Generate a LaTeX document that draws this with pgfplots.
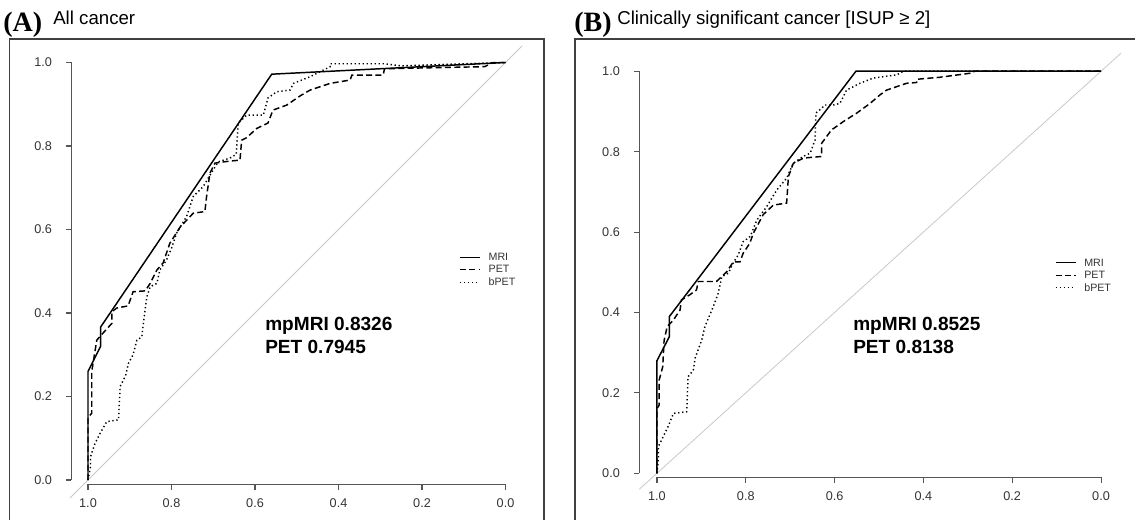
\documentclass[border=0pt]{standalone}
\usepackage{fontspec}
\setmainfont{Liberation Sans}
\newfontfamily\titleserif{Liberation Serif}
\usepackage{pgfplots}
\usepackage{pgfplotstable}
\pgfplotsset{compat=1.18}

\definecolor{axisc}{HTML}{555555}
\definecolor{labc}{HTML}{333333}
\definecolor{diagc}{HTML}{C8C8C8}
\definecolor{framec}{HTML}{404040}

% ROC curves: specificity s (axis runs 1 -> 0) vs sensitivity t
\pgfplotstableread{
s t
1.000 0.000
1.000 0.260
0.970 0.320
0.970 0.366
0.560 0.972
0.000 1.000
}\mriA
\pgfplotstableread{
s t
1.000 0.000
1.000 0.150
0.991 0.160
0.991 0.260
0.979 0.335
0.964 0.352
0.943 0.375
0.943 0.403
0.931 0.412
0.904 0.417
0.892 0.451
0.863 0.453
0.851 0.471
0.835 0.503
0.820 0.520
0.804 0.567
0.780 0.605
0.748 0.639
0.720 0.643
0.716 0.679
0.708 0.735
0.696 0.759
0.660 0.764
0.636 0.766
0.632 0.814
0.620 0.820
0.596 0.842
0.569 0.855
0.557 0.886
0.524 0.898
0.492 0.920
0.468 0.934
0.420 0.950
0.372 0.958
0.368 0.970
0.293 0.970
0.290 0.985
0.150 0.988
0.050 0.990
0.030 1.000
0.000 1.000
}\petA
\pgfplotstableread{
s t
1.000 0.000
0.994 0.032
0.994 0.056
0.983 0.088
0.971 0.112
0.955 0.140
0.927 0.144
0.923 0.224
0.910 0.250
0.903 0.280
0.892 0.300
0.883 0.335
0.871 0.343
0.867 0.379
0.859 0.439
0.851 0.463
0.835 0.471
0.828 0.503
0.812 0.527
0.800 0.555
0.788 0.591
0.764 0.631
0.748 0.679
0.724 0.703
0.700 0.743
0.688 0.762
0.660 0.771
0.645 0.780
0.640 0.855
0.620 0.874
0.580 0.874
0.569 0.915
0.548 0.930
0.516 0.934
0.508 0.950
0.468 0.966
0.420 0.990
0.420 0.997
0.290 0.997
0.250 0.992
0.000 1.000
}\bpetA
\pgfplotstableread{
s t
1.000 0.000
1.000 0.280
0.972 0.340
0.972 0.390
0.552 1.000
0.000 1.000
}\mriB
\pgfplotstableread{
s t
1.000 0.000
1.000 0.160
0.995 0.170
0.995 0.232
0.987 0.265
0.984 0.330
0.977 0.365
0.963 0.381
0.948 0.406
0.945 0.431
0.926 0.444
0.911 0.456
0.907 0.477
0.866 0.477
0.843 0.501
0.828 0.526
0.813 0.526
0.806 0.547
0.791 0.572
0.783 0.597
0.761 0.643
0.738 0.667
0.708 0.672
0.704 0.738
0.693 0.771
0.670 0.784
0.629 0.788
0.629 0.821
0.607 0.854
0.580 0.875
0.550 0.896
0.520 0.920
0.498 0.941
0.483 0.953
0.438 0.970
0.415 0.972
0.415 0.980
0.363 0.985
0.295 0.995
0.284 1.000
0.000 1.000
}\petB
\pgfplotstableread{
s t
1.000 0.000
0.997 0.033
0.997 0.066
0.986 0.091
0.975 0.116
0.963 0.149
0.933 0.153
0.930 0.240
0.918 0.257
0.914 0.287
0.899 0.332
0.892 0.365
0.881 0.394
0.873 0.415
0.862 0.448
0.854 0.489
0.839 0.498
0.830 0.520
0.817 0.543
0.806 0.576
0.790 0.589
0.775 0.630
0.753 0.663
0.730 0.705
0.708 0.734
0.693 0.771
0.671 0.788
0.655 0.796
0.644 0.829
0.642 0.896
0.629 0.908
0.622 0.916
0.603 0.916
0.588 0.920
0.573 0.953
0.543 0.970
0.513 0.983
0.460 0.991
0.445 1.000
0.000 1.000
}\bpetB

\pgfplotsset{
  rocax/.style={
    scale only axis,
    xmin=-0.04, xmax=1.04, ymin=-0.01, ymax=1.04,
    axis line style={draw=none},
    xtick={0,0.2,0.4,0.6,0.8,1}, xticklabels={1.0,0.8,0.6,0.4,0.2,0.0},
    ytick={0,0.2,0.4,0.6,0.8,1}, yticklabels={0.0,0.2,0.4,0.6,0.8,1.0},
    xtick pos=bottom, ytick pos=left,
    tick align=outside, major tick length=4pt,
    tick style={axisc, line width=0.8pt},
    ticklabel style={font=\fontsize{9.5}{11}\selectfont, text=labc},
    xticklabel style={yshift=-3pt},
    yticklabel style={anchor=east, xshift=-7pt},
    clip=false,
    legend cell align=left,
    legend image code/.code={
      \draw[#1, line width=0.7pt] (0pt,0pt) -- (15pt,0pt);
      \path (21pt,0pt);},
    legend style={draw=none, fill=none, inner sep=0pt, row sep=2.4pt,
      anchor=north west,
      nodes={inner sep=0pt, text=labc, text height=6pt, text depth=1pt,
        font=\fontsize{8}{9}\selectfont}},
  },
  mri/.style={black, line width=1.1pt, solid},
  pet/.style={black, line width=1.1pt, dash pattern=on 4.5pt off 2.5pt},
  bpet/.style={black, line width=1.1pt, dash pattern=on 1pt off 2pt},
}

\begin{document}
\begin{tikzpicture}[x=0.75pt,y=0.75pt]
\useasboundingbox (0,0) rectangle (1135,520);

% panel frames
\draw[framec, line width=1.1pt] (9.6,-5) -- (9.6,481) -- (544,481) -- (544,-5);
\draw[framec, line width=1.1pt] (575,-5) -- (575,481) -- (1140,481);

% ---- panel A ----
\begin{axis}[rocax, at={(53.475pt,26.85pt)}, anchor=south west,
  width=338.2pt, height=328.8pt,
  legend style={at={(axis cs:0.889,0.546)}}]
\draw[axisc, line width=0.8pt] (axis cs:-0.04,0) -- (axis cs:-0.04,1);
\draw[axisc, line width=0.8pt] (axis cs:0,-0.01) -- (axis cs:1,-0.01);
\addplot[diagc, line width=0.6pt, forget plot] coordinates {(-0.043,-0.043) (1.04,1.04)};
\addplot[mri] table[x expr=1-\thisrow{s}, y=t] {\mriA};
\addlegendentry{MRI}
\addplot[pet] table[x expr=1-\thisrow{s}, y=t] {\petA};
\addlegendentry{PET}
\addplot[bpet] table[x expr=1-\thisrow{s}, y=t] {\bpetA};
\addlegendentry{bPET}
\end{axis}

% ---- panel B ----
\begin{axis}[rocax, at={(479.4pt,32.03pt)}, anchor=south west,
  width=359.7pt, height=316.6pt,
  legend style={at={(axis cs:0.896,0.536)}}]
\draw[axisc, line width=0.8pt] (axis cs:-0.04,0) -- (axis cs:-0.04,1);
\draw[axisc, line width=0.8pt] (axis cs:0,-0.01) -- (axis cs:1,-0.01);
\addplot[diagc, line width=0.6pt, forget plot] coordinates {(-0.04,-0.04) (1.045,1.045)};
\addplot[mri] table[x expr=1-\thisrow{s}, y=t] {\mriB};
\addlegendentry{MRI}
\addplot[pet] table[x expr=1-\thisrow{s}, y=t] {\petB};
\addlegendentry{PET}
\addplot[bpet] table[x expr=1-\thisrow{s}, y=t] {\bpetB};
\addlegendentry{bPET}
\end{axis}

% titles
\node[anchor=base west, inner sep=0pt] at (3,488)
  {\titleserif\bfseries\fontsize{21}{24}\selectfont (A)};
\node[anchor=base west, inner sep=0pt] at (53,495)
  {\fontsize{14}{16}\selectfont All cancer};
\node[anchor=base west, inner sep=0pt] at (574,488)
  {\titleserif\bfseries\fontsize{21}{24}\selectfont (B)};
\node[anchor=base west, inner sep=0pt] at (617,495)
  {\fontsize{14}{16}\selectfont Clinically significant cancer [ISUP ≥ 2]};

% AUC annotations
\node[anchor=base west, inner sep=0pt] at (265,189)
  {\bfseries\fontsize{14.3}{16}\selectfont mpMRI 0.8326};
\node[anchor=base west, inner sep=0pt] at (265,166)
  {\bfseries\fontsize{14.3}{16}\selectfont PET 0.7945};
\node[anchor=base west, inner sep=0pt] at (853,189)
  {\bfseries\fontsize{14.3}{16}\selectfont mpMRI 0.8525};
\node[anchor=base west, inner sep=0pt] at (853,166)
  {\bfseries\fontsize{14.3}{16}\selectfont PET 0.8138};
\end{tikzpicture}
\end{document}
